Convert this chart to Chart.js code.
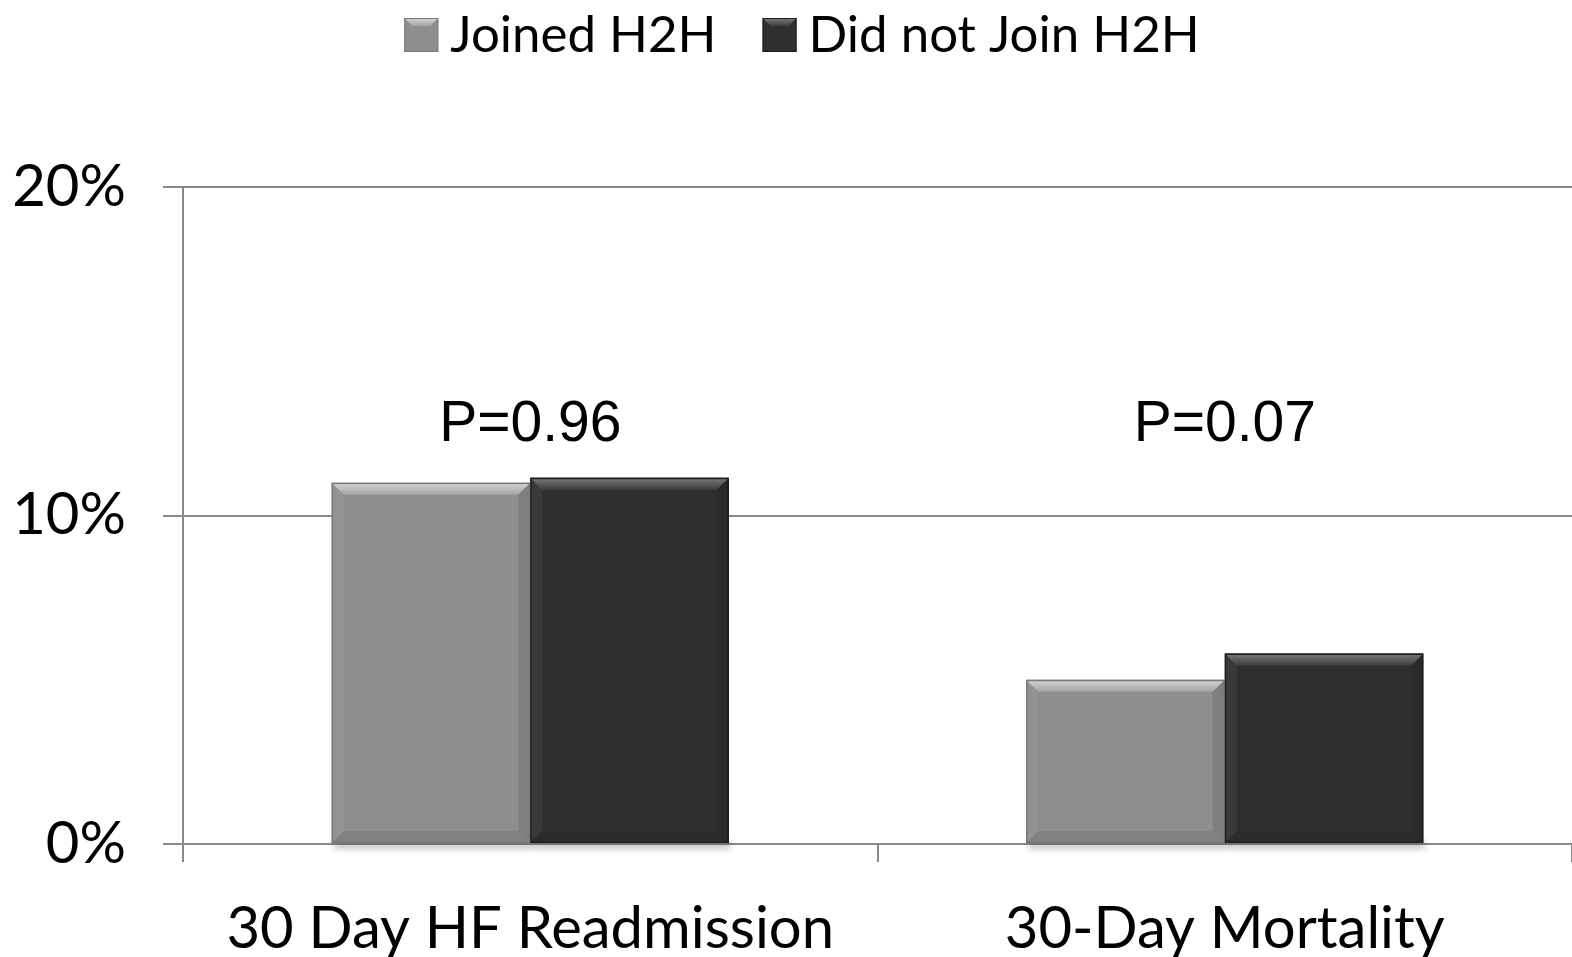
<!DOCTYPE html>
<html>
<head>
<meta charset="utf-8">
<script src="https://cdn.jsdelivr.net/npm/chart.js@4/dist/chart.umd.min.js"></script>
<style>
  html, body { margin: 0; padding: 0; background: #ffffff; }
  #wrap { width: 1572px; height: 957px; }
</style>
</head>
<body>
<div id="wrap"><canvas id="c" width="1572" height="957"></canvas></div>
<script>
// Outcome rates (%) by H2H participation
const categories = ['30 Day HF Readmission', '30-Day Mortality'];
const joinedRates = [11.0, 5.0];
const notJoinedRates = [11.15, 5.8];
const pValueLabels = ['P=0.96', 'P=0.07'];
const pLabelLevel = 12.75;     // height (in %) where the p-value text sits
const yTickValues = [0, 10, 20];

const joinedColor = '#8e8e8e';
const notJoinedColor = '#2f2f2f';
const gridColor = '#8a8a8a';
const textFont = 'Lato, "Open Sans", sans-serif';

function shade(light) {
  return light
    ? { top: ['#d6d6d6', '#a4a4a4'], line: '#7a7a7a' }
    : { top: ['#7a7a7a', '#3e3e3e'], line: '#1e1e1e' };
}

// Soft shadow under bars plus a bevelled top edge on each bar
const bevelPlugin = {
  id: 'bevel',
  beforeDatasetsDraw(chart) {
    const ctx = chart.ctx;
    chart.data.datasets.forEach((ds, i) => {
      chart.getDatasetMeta(i).data.forEach(bar => {
        const p = bar.getProps(['x', 'y', 'base', 'width'], true);
        const l = p.x - p.width / 2;
        ctx.save();
        ctx.fillStyle = 'rgba(0,0,0,0.22)';
        ctx.filter = 'blur(3px)';
        ctx.fillRect(l + 2, p.base - 2, p.width, 8);
        ctx.restore();
      });
    });
  },
  afterDatasetsDraw(chart) {
    const ctx = chart.ctx;
    chart.data.datasets.forEach((ds, i) => {
      const s = shade(i === 0);
      chart.getDatasetMeta(i).data.forEach(bar => {
        const p = bar.getProps(['x', 'y', 'base', 'width'], true);
        const l = p.x - p.width / 2, r = p.x + p.width / 2, t = p.y, b = p.base;
        const bv = 12;
        ctx.save();
        const g = ctx.createLinearGradient(0, t, 0, t + bv);
        g.addColorStop(0, s.top[0]); g.addColorStop(1, s.top[1]);
        ctx.fillStyle = g;
        ctx.beginPath();
        ctx.moveTo(l, t); ctx.lineTo(r, t); ctx.lineTo(r - bv, t + bv); ctx.lineTo(l + bv, t + bv);
        ctx.closePath(); ctx.fill();
        ctx.fillStyle = 'rgba(255,255,255,0.05)';
        ctx.beginPath();
        ctx.moveTo(l, t); ctx.lineTo(l + bv, t + bv); ctx.lineTo(l + bv, b - bv); ctx.lineTo(l, b);
        ctx.closePath(); ctx.fill();
        ctx.fillStyle = 'rgba(0,0,0,0.10)';
        ctx.beginPath();
        ctx.moveTo(r, t); ctx.lineTo(r - bv, t + bv); ctx.lineTo(r - bv, b - bv); ctx.lineTo(r, b);
        ctx.closePath(); ctx.fill();
        ctx.fillStyle = 'rgba(0,0,0,0.08)';
        ctx.beginPath();
        ctx.moveTo(l, b); ctx.lineTo(l + bv, b - bv); ctx.lineTo(r - bv, b - bv); ctx.lineTo(r, b);
        ctx.closePath(); ctx.fill();
        ctx.strokeStyle = s.line;
        ctx.lineWidth = 1.5;
        ctx.strokeRect(l + 0.75, t + 0.75, p.width - 1.5, b - t - 1.5);
        ctx.restore();
      });
    });
  }
};

// p-value text above each category group
const pValuePlugin = {
  id: 'pValues',
  afterDatasetsDraw(chart) {
    const ctx = chart.ctx;
    const xs = chart.scales.x, ys = chart.scales.y;
    ctx.save();
    ctx.fillStyle = '#000';
    ctx.font = '57px "Liberation Sans", Arial, sans-serif';
    ctx.textAlign = 'center';
    ctx.textBaseline = 'middle';
    pValueLabels.forEach((txt, i) => {
      ctx.fillText(txt, xs.getPixelForValue(i), ys.getPixelForValue(pLabelLevel));
    });
    ctx.restore();
  }
};

// Legend row across the top: bevelled swatch followed by the series name
const topLegend = {
  id: 'topLegend',
  afterDraw(chart) {
    const ctx = chart.ctx;
    const box = 34, gapText = 12, gapItem = 46, centerX = 802, midY = 35;
    ctx.save();
    ctx.font = '51px ' + textFont;
    ctx.textBaseline = 'middle';
    const items = chart.data.datasets.map((ds, i) => ({
      label: ds.label, color: ds.backgroundColor, light: i === 0,
      w: box + gapText + ctx.measureText(ds.label).width
    }));
    const total = items.reduce((a, it) => a + it.w, 0) + gapItem * (items.length - 1);
    let x = centerX - total / 2;
    items.forEach(it => {
      const s = shade(it.light);
      const t = midY - box / 2;
      ctx.fillStyle = it.color;
      ctx.fillRect(x, t, box, box);
      const g = ctx.createLinearGradient(0, t, 0, t + 8);
      g.addColorStop(0, s.top[0]); g.addColorStop(1, s.top[1]);
      ctx.fillStyle = g;
      ctx.beginPath();
      ctx.moveTo(x, t); ctx.lineTo(x + box, t); ctx.lineTo(x + box - 8, t + 8); ctx.lineTo(x + 8, t + 8);
      ctx.closePath(); ctx.fill();
      ctx.strokeStyle = s.line; ctx.lineWidth = 1;
      ctx.strokeRect(x + 0.5, t + 0.5, box - 1, box - 1);
      ctx.fillStyle = '#000';
      ctx.textAlign = 'left';
      ctx.fillText(it.label, x + box + gapText, midY + 1);
      x += it.w + gapItem;
    });
    ctx.restore();
  }
};

new Chart(document.getElementById('c'), {
  type: 'bar',
  data: {
    labels: categories,
    datasets: [
      { label: 'Joined H2H', data: joinedRates, backgroundColor: joinedColor, borderWidth: 0 },
      { label: 'Did not Join H2H', data: notJoinedRates, backgroundColor: notJoinedColor, borderWidth: 0 }
    ]
  },
  options: {
    responsive: false,
    animation: false,
    devicePixelRatio: 1,
    layout: { padding: { left: 0, right: 0, top: 187, bottom: 0 } },
    datasets: { bar: { categoryPercentage: 0.572, barPercentage: 1.0 } },
    plugins: {
      legend: { display: false },
      tooltip: { enabled: false }
    },
    scales: {
      x: {
        grid: { display: true, drawOnChartArea: false, color: gridColor, lineWidth: 2, tickLength: 18, offset: true },
        border: { color: gridColor, width: 2 },
        ticks: { font: { family: textFont, size: 58 }, color: '#000', padding: 32 },
        afterFit(scale) { scale.height = 113; }
      },
      y: {
        min: 0,
        max: 20,
        afterBuildTicks(scale) { scale.ticks = yTickValues.map(v => ({ value: v })); },
        grid: { color: gridColor, lineWidth: 2, tickLength: 20 },
        border: { color: gridColor, width: 2 },
        ticks: {
          font: { family: textFont, size: 58 },
          color: '#000',
          padding: 37,
          callback: v => v + '%'
        },
        afterFit(scale) { scale.width = 183; }
      }
    }
  },
  plugins: [bevelPlugin, pValuePlugin, topLegend]
});
</script>
</body>
</html>
